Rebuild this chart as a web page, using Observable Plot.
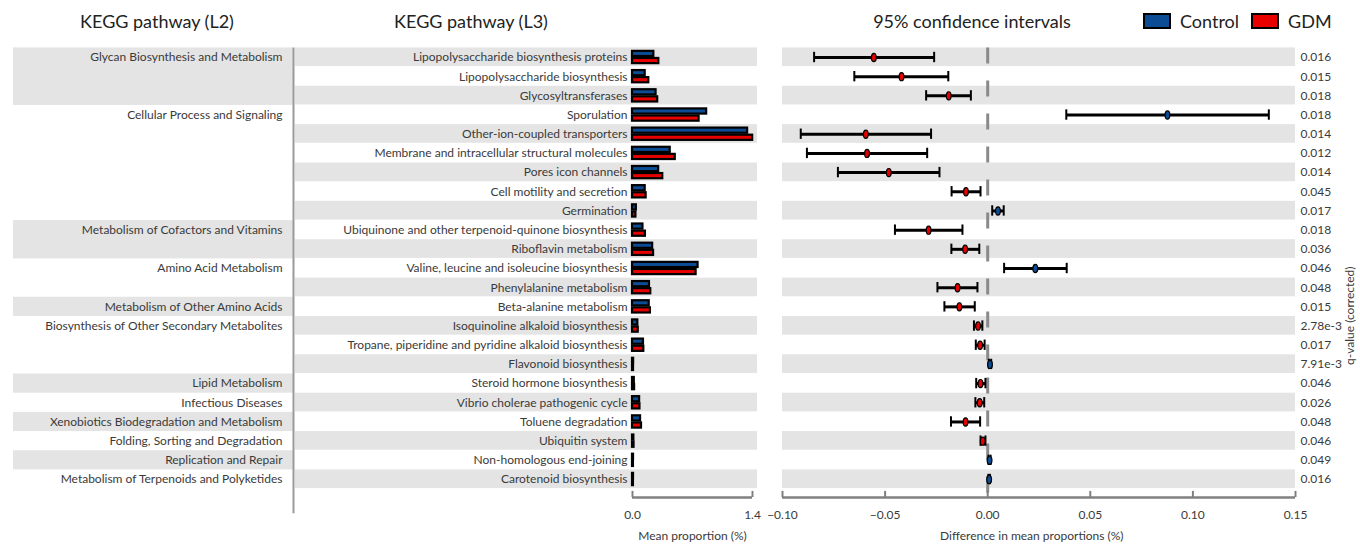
<!DOCTYPE html>
<html>
<head>
<meta charset="utf-8">
<script src="https://cdn.jsdelivr.net/npm/d3@7"></script>
<script src="https://cdn.jsdelivr.net/npm/@observablehq/plot@0.6"></script>
<style>
  html, body { margin: 0; padding: 0; background: #fff; }
  #chart { position: relative; width: 1360px; height: 544px; font-family: Lato, "Liberation Sans", sans-serif; color: #3a3a3a; }
  #chart svg { position: absolute; left: 0; top: 0; background: transparent; }
  .title { position: absolute; top: 10px; font-size: 18px; color: #222; white-space: nowrap; transform: translateX(-50%); }
  .legend { position: absolute; top: 10px; left: 1143px; display: flex; align-items: center; font-size: 18px; color: #222; }
  .swatch { width: 24px; height: 12px; border: 2px solid #000; margin-right: 9px; }
</style>
</head>
<body>
<div id="chart">
  <div class="title" style="left:157px">KEGG pathway (L2)</div>
  <div class="title" style="left:471px">KEGG pathway (L3)</div>
  <div class="title" style="left:972px">95% confidence intervals</div>
  <div class="legend">
    <div class="swatch" style="background:#0b4c94"></div><span style="margin-right:12px">Control</span>
    <div class="swatch" style="background:#e80000"></div><span>GDM</span>
  </div>
</div>
<script>
// KEGG level-2 categories and how many level-3 pathways each one holds
const l2Names = [
  "Glycan Biosynthesis and Metabolism",
  "Cellular Process and Signaling",
  "Metabolism of Cofactors and Vitamins",
  "Amino Acid Metabolism",
  "Metabolism of Other Amino Acids",
  "Biosynthesis of Other Secondary Metabolites",
  "Lipid Metabolism",
  "Infectious Diseases",
  "Xenobiotics Biodegradation and Metabolism",
  "Folding, Sorting and Degradation",
  "Replication and Repair",
  "Metabolism of Terpenoids and Polyketides"
];
const l2Counts = [3, 6, 2, 2, 1, 3, 1, 1, 1, 1, 1, 1];

// KEGG level-3 pathways
const l3Names = [
  "Lipopolysaccharide biosynthesis proteins",
  "Lipopolysaccharide biosynthesis",
  "Glycosyltransferases",
  "Sporulation",
  "Other-ion-coupled transporters",
  "Membrane and intracellular structural molecules",
  "Pores icon channels",
  "Cell motility and secretion",
  "Germination",
  "Ubiquinone and other terpenoid-quinone biosynthesis",
  "Riboflavin metabolism",
  "Valine, leucine and isoleucine biosynthesis",
  "Phenylalanine metabolism",
  "Beta-alanine metabolism",
  "Isoquinoline alkaloid biosynthesis",
  "Tropane, piperidine and pyridine alkaloid biosynthesis",
  "Flavonoid biosynthesis",
  "Steroid hormone biosynthesis",
  "Vibrio cholerae pathogenic cycle",
  "Toluene degradation",
  "Ubiquitin system",
  "Non-homologous end-joining",
  "Carotenoid biosynthesis"
];

// Mean proportion (%) per group
const controlMean = [0.249, 0.148, 0.275, 0.865, 1.343, 0.440, 0.305, 0.148, 0.045, 0.122, 0.235, 0.765,
                     0.198, 0.195, 0.062, 0.128, 0.013, 0.021, 0.083, 0.094, 0.016, 0.012, 0.012];
const gdmMean     = [0.307, 0.190, 0.294, 0.777, 1.402, 0.499, 0.353, 0.159, 0.040, 0.151, 0.246, 0.742,
                     0.213, 0.209, 0.067, 0.132, 0.012, 0.0245, 0.087, 0.105, 0.018, 0.011, 0.011];

// Difference in mean proportions (Control - GDM) with 95% confidence bounds
const diffMean = [-0.0555, -0.0420, -0.0190, 0.0876, -0.0594, -0.0588, -0.0482, -0.0106, 0.0050, -0.0288,
                  -0.0110, 0.0232, -0.0147, -0.0138, -0.0047, -0.0037, 0.0011, -0.0035, -0.0039, -0.0108,
                  -0.0024, 0.0009, 0.0007];
const ciLow  = [-0.0846, -0.0650, -0.0300, 0.0383, -0.0911, -0.0881, -0.0730, -0.0176, 0.0022, -0.0452,
                -0.0177, 0.0080, -0.0245, -0.0211, -0.0067, -0.0058, 0.0006, -0.0056, -0.0060, -0.0179,
                -0.0035, 0.0004, 0.0003];
const ciHigh = [-0.0261, -0.0192, -0.0082, 0.1370, -0.0276, -0.0295, -0.0235, -0.0035, 0.0078, -0.0123,
                -0.0041, 0.0385, -0.0050, -0.0063, -0.0026, -0.0015, 0.0017, -0.0011, -0.0017, -0.0037,
                -0.0011, 0.0014, 0.0011];

// Corrected q-values as printed
const qValues = ["0.016", "0.015", "0.018", "0.018", "0.014", "0.012", "0.014", "0.045", "0.017", "0.018",
                 "0.036", "0.046", "0.048", "0.015", "2.78e-3", "0.017", "7.91e-3", "0.046", "0.026", "0.048",
                 "0.046", "0.049", "0.016"];

// Axis settings
const barDomain = [0, 1.4];
const barTicks = [0, 1.4];
const ciDomain = [-0.10, 0.15];
const ciTicks = [-0.10, -0.05, 0.00, 0.05, 0.10, 0.15];

const colControl = "#0b4c94";
const colGDM = "#e80000";
const band = "#e4e4e4";
const axisGray = "#808080";
const textColor = "#3a3a3a";

// ---- derived tables ----
const rows = l3Names.map((name, i) => ({
  i, name, control: controlMean[i], gdm: gdmMean[i],
  diff: diffMean[i], lo: ciLow[i], hi: ciHigh[i], q: qValues[i]
}));
let start = 0;
const groups = l2Names.map((name, k) => {
  const g = {k, name, start, end: start + l2Counts[k]};
  start += l2Counts[k];
  return g;
});

const W = 1360, H = 544;
const nRows = l3Names.length;
const yScale = {domain: [0, nRows], range: [47.4, 488.6]};
const axisRow = nRows + 0.44;   // row position of the bottom axis line
const style = {fontFamily: "Lato, 'Liberation Sans', sans-serif", fontSize: "12px", color: textColor, background: "transparent"};

// vertical ellipse used for the difference estimates
const ellipse = {
  draw(ctx) {
    const rx = 2.4, ry = 4.1, k = 0.5523;
    ctx.moveTo(0, -ry);
    ctx.bezierCurveTo(k * rx, -ry, rx, -k * ry, rx, 0);
    ctx.bezierCurveTo(rx, k * ry, k * rx, ry, 0, ry);
    ctx.bezierCurveTo(-k * rx, ry, -rx, k * ry, -rx, 0);
    ctx.bezierCurveTo(-rx, -k * ry, -k * rx, -ry, 0, -ry);
    ctx.closePath();
  }
};

const chart = document.getElementById("chart");

// ---- panel 1: KEGG level 2 ----
const l2Plot = Plot.plot({
  width: W, height: H,
  marginLeft: 13, marginRight: W - 293, marginTop: 47, marginBottom: 47,
  x: {domain: [0, 1], range: [13, 293], axis: null},
  y: {...yScale, axis: null},
  style,
  marks: [
    Plot.rect(groups.filter(g => g.k % 2 === 0), {y1: "start", y2: "end", fill: band}),
    Plot.text(groups, {y: g => g.start + 0.5, text: "name", frameAnchor: "right", textAnchor: "end", dx: -11, fill: textColor}),
    Plot.ruleX([1], {y1: 0, y2: axisRow + 0.85, stroke: "#9a9a9a", strokeWidth: 2})
  ]
});
chart.appendChild(l2Plot);

// ---- panel 2: KEGG level 3 labels and mean proportions ----
const barPlot = Plot.plot({
  width: W, height: H,
  marginLeft: 295, marginRight: W - 757, marginTop: 47, marginBottom: 47,
  x: {domain: barDomain, range: [632, 752]},
  y: {...yScale, axis: null},
  style,
  marks: [
    Plot.rect(rows.filter(d => d.i % 2 === 0), {y1: "i", y2: d => d.i + 1, fill: band, insetBottom: 0.5}),
    Plot.text(rows, {x: () => 0, y: d => d.i + 0.5, text: "name", textAnchor: "end", dx: -5, fill: textColor}),
    Plot.rect(rows, {x1: () => 0, x2: "control", y1: d => d.i + 0.18, y2: d => d.i + 0.45,
                     fill: colControl, stroke: "#000", strokeWidth: 2.2}),
    Plot.rect(rows, {x1: () => 0, x2: "gdm", y1: d => d.i + 0.55, y2: d => d.i + 0.82,
                     fill: colGDM, stroke: "#000", strokeWidth: 2.2}),
    Plot.ruleY([axisRow], {x1: barDomain[0], x2: barDomain[1], stroke: axisGray, strokeWidth: 2.5}),
    Plot.ruleX(barTicks, {y1: axisRow, y2: axisRow - 0.32, stroke: axisGray, strokeWidth: 2}),
    Plot.axisX({ticks: barTicks, tickFormat: ".1f", tickSize: 0, tickPadding: 13, label: null, fill: textColor, fontSize: 12}),
    Plot.text(["Mean proportion (%)"], {frameAnchor: "bottom", x: () => (barDomain[0] + barDomain[1]) / 2, dy: 42, fill: textColor})
  ]
});
chart.appendChild(barPlot);

// ---- panel 3: 95% confidence intervals of the difference ----
const ciPlot = Plot.plot({
  width: W, height: H,
  marginLeft: 782, marginRight: W - 1295, marginTop: 47, marginBottom: 47,
  x: {domain: ciDomain, range: [782, 1295]},
  y: {...yScale, axis: null},
  style,
  marks: [
    Plot.rect(rows.filter(d => d.i % 2 === 0), {y1: "i", y2: d => d.i + 1, fill: band, insetBottom: 0.5}),
    Plot.ruleX([0], {y1: 0, y2: axisRow, stroke: "#8a8a8a", strokeWidth: 3, strokeDasharray: "16,17"}),
    Plot.link(rows, {x1: "lo", x2: "hi", y1: d => d.i + 0.5, y2: d => d.i + 0.5, stroke: "#000", strokeWidth: 3}),
    Plot.ruleX(rows, {x: "lo", y1: d => d.i + 0.23, y2: d => d.i + 0.77, stroke: "#000", strokeWidth: 2}),
    Plot.ruleX(rows, {x: "hi", y1: d => d.i + 0.23, y2: d => d.i + 0.77, stroke: "#000", strokeWidth: 2}),
    Plot.dot(rows, {x: "diff", y: d => d.i + 0.5, symbol: ellipse,
                    fill: d => d.diff > 0 ? colControl : colGDM, stroke: "#000", strokeWidth: 1.2}),
    Plot.text(rows, {y: d => d.i + 0.5, text: "q", frameAnchor: "right", textAnchor: "start", dx: 5, fill: textColor}),
    Plot.text(["q-value (corrected)"], {frameAnchor: "right", dx: 55, dy: -6, rotate: -90, fill: textColor}),
    Plot.ruleY([axisRow], {x1: ciDomain[0], x2: ciDomain[1], stroke: axisGray, strokeWidth: 2.5}),
    Plot.ruleX(ciTicks, {y1: axisRow, y2: axisRow - 0.32, stroke: axisGray, strokeWidth: 2}),
    Plot.axisX({ticks: ciTicks, tickFormat: ".2f", tickSize: 0, tickPadding: 13, label: null, fill: textColor, fontSize: 12}),
    Plot.text(["Difference in mean proportions (%)"], {frameAnchor: "bottom", x: () => 0.0215, dy: 42, fill: textColor})
  ]
});
chart.appendChild(ciPlot);
</script>
</body>
</html>
